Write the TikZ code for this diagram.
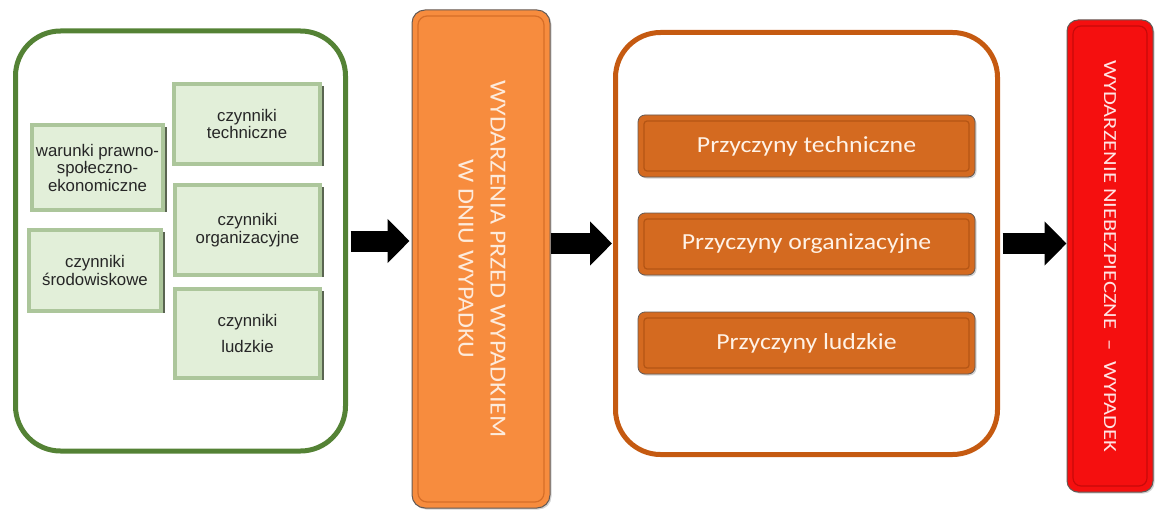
\documentclass[tikz,border=0pt]{standalone}
\usepackage{fontspec}
\setmainfont{Liberation Sans}
\newfontfamily\calib[FakeStretch=1.12]{Carlito}
\newfontfamily\calibA[FakeStretch=1.13]{Carlito}
\newfontfamily\calibB[FakeStretch=1.22]{Carlito}
\usetikzlibrary{arrows.meta,shadows}
\definecolor{gborder}{RGB}{84,130,53}
\definecolor{gfill}{RGB}{226,239,217}
\definecolor{gframe}{RGB}{172,198,155}
\definecolor{gshadow}{RGB}{72,84,62}
\definecolor{gtext}{RGB}{38,38,38}
\definecolor{otall}{RGB}{247,140,62}
\definecolor{otallin}{RGB}{214,110,40}
\definecolor{oline}{RGB}{197,90,17}
\definecolor{obox}{RGB}{212,106,32}
\definecolor{oboxin}{RGB}{180,85,20}
\definecolor{edgegray}{RGB}{100,90,85}
\definecolor{redfill}{RGB}{245,15,15}
\definecolor{redin}{RGB}{200,10,10}
\definecolor{otext}{RGB}{253,235,220}
\definecolor{rtext}{RGB}{255,228,228}
\definecolor{btext}{RGB}{255,242,230}
\tikzset{
  bigframe/.style={draw=#1, line width=5pt, rounded corners=45pt, inner sep=0pt},
  gsmall/.style={fill=gfill, draw=gframe, line width=3.5pt, inner sep=0pt,
    drop shadow={shadow xshift=3.5pt, shadow yshift=-2pt, fill=gshadow, opacity=0.9},
    text=gtext, align=center, font=\fontsize{16.8}{17.5}\selectfont},
  insetline/.style 2 args={path picture={\draw[#1, line width=1.2pt, rounded corners=#2]
    ([shift={(6pt,-6pt)}]path picture bounding box.north west) rectangle
    ([shift={(-6pt,6pt)}]path picture bounding box.south east);}},
  tallbox/.style={draw=edgegray, line width=1pt, rounded corners=13pt, inner sep=0pt,
    drop shadow={shadow xshift=1.5pt, shadow yshift=-1.5pt, opacity=0.35}},
  causebox/.style={fill=obox, draw=edgegray, line width=0.8pt, rounded corners=7pt, inner sep=0pt,
    minimum width=337pt, minimum height=62pt, insetline={oboxin}{3pt},
    drop shadow={shadow xshift=1.5pt, shadow yshift=-1.5pt, opacity=0.35},
    text=btext, font=\calib\fontsize{23}{26}\selectfont},
  blockarrow/.style={line width=21pt, -{Triangle[length=22pt,width=43pt]}, black}
}
\begin{document}
\begin{tikzpicture}[x=1pt,y=-1pt]
\useasboundingbox (0,0) rectangle (1155,513);
% left group
\node[bigframe=gborder, minimum width=330pt, minimum height=420pt] (env) at (180.5,241) {};
\node[gsmall, minimum width=146pt, minimum height=80pt] (tech) at (247,124) {czynniki\\techniczne};
\node[gsmall, minimum width=131pt, minimum height=85pt] (war) at (97.5,167.5) {warunki prawno-\\społeczno-\\ekonomiczne};
\node[gsmall, minimum width=132pt, minimum height=81pt] (srod) at (95,270.5) {czynniki\\środowiskowe};
\node[gsmall, minimum width=145pt, minimum height=90pt] (org) at (247.5,230) {czynniki\\organizacyjne};
\node[gsmall, minimum width=145pt, minimum height=89pt] (ludz) at (247.5,333.5) {czynniki\\[9pt]ludzkie};
% tall orange box
\node[tallbox, fill=otall, insetline={otallin}{9pt}, minimum width=138pt, minimum height=498pt, text=otext] (przed) at (481,259)
  {\rotatebox{-90}{\calibA\fontsize{23}{32}\selectfont\begin{tabular}{@{}c@{}}WYDARZENIA PRZED WYPADKIEM\\W DNIU WYPADKU\end{tabular}}};
% causes group
\node[bigframe=oline, minimum width=382pt, minimum height=422pt] (causes) at (806.5,243.5) {};
\node[causebox] (ptech) at (806.5,146) {Przyczyny techniczne};
\node[causebox] (porg) at (806.5,244) {Przyczyny organizacyjne};
\node[causebox] (pludz) at (806.5,343) {Przyczyny ludzkie};
% red box
\node[tallbox, fill=redfill, insetline={redin}{8pt}, rounded corners=11pt, minimum width=86pt, minimum height=472pt, text=rtext] (acc) at (1110,256)
  {\rotatebox{-90}{\calibB\fontsize{18.5}{22}\selectfont WYDARZENIE NIEBEZPIECZNE\hspace{0.55em}–\hspace{0.55em}WYPADEK}};
% arrows
\draw[blockarrow, shorten <=2.5pt, shorten >=2pt] (env.east) -- (env.east -| przed.west);
\draw[blockarrow, shorten >=1pt] (przed.east |- causes.west) -- (causes.west);
\draw[blockarrow, shorten <=2.5pt, shorten >=0pt] (causes.east) -- (causes.east -| acc.west);
\end{tikzpicture}
\end{document}
